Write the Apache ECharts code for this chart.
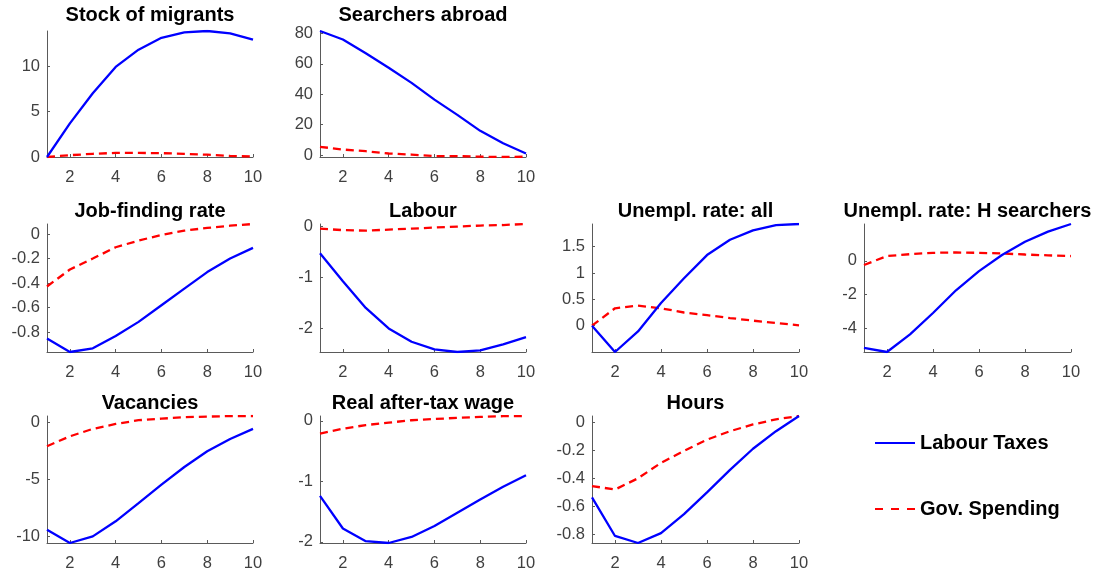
<!DOCTYPE html>
<html>
<head>
<meta charset="utf-8">
<script src="https://cdn.jsdelivr.net/npm/echarts@6/dist/echarts.min.js"></script>
<style>
  html, body { margin: 0; padding: 0; background: #fff; }
  #chart { width: 1101px; height: 573px; }
</style>
</head>
<body>
<div id="chart"></div>
<script>
// Horizon (quarters) shared by every panel
const periods = [1, 2, 3, 4, 5, 6, 7, 8, 9, 10];
const xTicks = [2, 4, 6, 8, 10];

// Panel titles
const titles = [
  'Stock of migrants', 'Searchers abroad',
  'Job-finding rate', 'Labour', 'Unempl. rate: all', 'Unempl. rate: H searchers',
  'Vacancies', 'Real after-tax wage', 'Hours'
];

// Responses to the labour-tax shock
const taxStock    = [0, 3.7, 7.0, 9.9, 11.8, 13.1, 13.7, 13.85, 13.6, 12.9];
const taxSearch   = [81.6, 76, 67, 57.5, 47.5, 36.5, 26.5, 16, 7.8, 1.1];
const taxJobFind  = [-0.85, -0.96, -0.93, -0.83, -0.715, -0.58, -0.445, -0.31, -0.2, -0.113];
const taxLabour   = [-0.53, -1.08, -1.6, -2.0, -2.26, -2.41, -2.46, -2.43, -2.31, -2.17];
const taxUnAll    = [0, -0.5, -0.11, 0.43, 0.9, 1.34, 1.63, 1.81, 1.91, 1.93];
const taxUnH      = [-5.13, -5.38, -4.34, -3.08, -1.74, -0.61, 0.34, 1.12, 1.72, 2.17];
const taxVac      = [-9.42, -10.58, -10.0, -8.68, -7.08, -5.47, -3.92, -2.54, -1.46, -0.58];
const taxWage     = [-1.24, -1.78, -1.99, -2.02, -1.92, -1.74, -1.52, -1.3, -1.09, -0.9];
const taxHours    = [-0.535, -0.81, -0.86, -0.79, -0.655, -0.5, -0.34, -0.19, -0.065, 0.043];

// Responses to the government-spending shock
const govStock    = [0, 0.2, 0.35, 0.45, 0.45, 0.42, 0.35, 0.25, 0.12, 0.05];
const govSearch   = [5.5, 3.7, 2.6, 1.1, 0.4, -0.6, -0.6, -1.0, -1.2, -1.0];
const govJobFind  = [-0.427, -0.289, -0.2, -0.108, -0.054, -0.008, 0.027, 0.049, 0.067, 0.081];
const govLabour   = [-0.05, -0.08, -0.09, -0.07, -0.05, -0.03, -0.01, 0.01, 0.02, 0.04];
const govUnAll    = [0, 0.33, 0.38, 0.33, 0.25, 0.2, 0.145, 0.095, 0.05, 0.006];
const govUnH      = [-0.25, 0.28, 0.39, 0.47, 0.49, 0.47, 0.43, 0.37, 0.32, 0.28];
const govVac      = [-2.1, -1.23, -0.58, -0.15, 0.18, 0.32, 0.44, 0.5, 0.54, 0.55];
const govWage     = [-0.21, -0.13, -0.07, -0.03, 0.01, 0.03, 0.05, 0.065, 0.077, 0.08];
const govHours    = [-0.455, -0.48, -0.4, -0.29, -0.205, -0.125, -0.065, -0.017, 0.019, 0.043];

// Y tick labels per panel
const yTicks = [
  [0, 5, 10],
  [0, 20, 40, 60, 80],
  [-0.8, -0.6, -0.4, -0.2, 0],
  [-2, -1, 0],
  [0, 0.5, 1, 1.5],
  [-4, -2, 0],
  [-10, -5, 0],
  [-2, -1, 0],
  [-0.8, -0.6, -0.4, -0.2, 0]
];

const taxSeries = [taxStock, taxSearch, taxJobFind, taxLabour, taxUnAll, taxUnH, taxVac, taxWage, taxHours];
const govSeries = [govStock, govSearch, govJobFind, govLabour, govUnAll, govUnH, govVac, govWage, govHours];

// Panel placement (pixels): column lefts/widths, row tops/heights
const colLeft = [47, 320, 592, 864];
const colWidth = [206, 206, 207, 207];
const rowTop = [31, 224, 416];
const rowHeight = [126, 128, 127];
const titleTop = [5, 201, 393];
const cells = [[0, 0], [0, 1], [1, 0], [1, 1], [1, 2], [1, 3], [2, 0], [2, 1], [2, 2]];

const FONT = '"Liberation Sans", Arial, Helvetica, sans-serif';
const axisGray = '#5a5a5a';
const labelGray = '#404040';

// Legend keys: a solid bar and three dashes, both 40 x 2
const solidKey = 'path://M0 0H40V2H0Z';
const dashKey = 'path://M0 0H8V2H0Z M16 0H24V2H16Z M32 0H40V2H32Z';

const grids = [], xAxes = [], yAxes = [], series = [], titleList = [];

cells.forEach(([r, c], i) => {
  grids.push({ left: colLeft[c], top: rowTop[r], width: colWidth[c], height: rowHeight[r], containLabel: false });
  titleList.push({
    text: titles[i],
    left: colLeft[c] + colWidth[c] / 2,
    top: titleTop[r],
    textAlign: 'center',
    padding: 0,
    textStyle: { fontFamily: FONT, fontSize: 20, fontWeight: 'bold', color: '#000' }
  });
  xAxes.push({
    type: 'value', gridIndex: i, min: 1, max: 10,
    axisLine: { show: true, onZero: false, lineStyle: { color: axisGray, width: 1 } },
    axisTick: { show: true, inside: true, length: 3, customValues: xTicks, lineStyle: { color: axisGray } },
    axisLabel: { customValues: xTicks, color: labelGray, fontFamily: FONT, fontSize: 16.5, margin: 12 },
    splitLine: { show: false }
  });
  const all = taxSeries[i].concat(govSeries[i]);
  yAxes.push({
    type: 'value', gridIndex: i,
    min: Math.min.apply(null, all), max: Math.max.apply(null, all),
    axisLine: { show: true, onZero: false, lineStyle: { color: axisGray, width: 1 } },
    axisTick: { show: true, inside: true, length: 3, customValues: yTicks[i], lineStyle: { color: axisGray } },
    axisLabel: { customValues: yTicks[i], color: labelGray, fontFamily: FONT, fontSize: 16.5, margin: 7 },
    splitLine: { show: false }
  });
  series.push({
    name: 'Labour Taxes', type: 'line', xAxisIndex: i, yAxisIndex: i,
    data: periods.map((p, k) => [p, taxSeries[i][k]]),
    symbol: 'none', silent: true, animation: false, z: 3,
    lineStyle: { color: '#0000ff', width: 2.3 }, itemStyle: { color: '#0000ff' }
  });
  series.push({
    name: 'Gov. Spending', type: 'line', xAxisIndex: i, yAxisIndex: i,
    data: periods.map((p, k) => [p, govSeries[i][k]]),
    symbol: 'none', silent: true, animation: false, z: 2,
    lineStyle: { color: '#ff0000', width: 2.3, type: [8, 5] }, itemStyle: { color: '#ff0000' }
  });
});

const chart = echarts.init(document.getElementById('chart'), null, { renderer: 'canvas' });
chart.setOption({
  animation: false,
  backgroundColor: '#fff',
  title: titleList,
  grid: grids,
  xAxis: xAxes,
  yAxis: yAxes,
  legend: {
    data: [
      { name: 'Labour Taxes', icon: solidKey },
      { name: 'Gov. Spending', icon: dashKey }
    ],
    orient: 'vertical',
    left: 875,
    top: 433,
    padding: 0,
    itemWidth: 40,
    itemHeight: 2.5,
    itemGap: 46,
    selectedMode: false,
    textStyle: { fontFamily: FONT, fontSize: 20, fontWeight: 'bold', color: '#000' }
  },
  series: series
});
</script>
</body>
</html>
